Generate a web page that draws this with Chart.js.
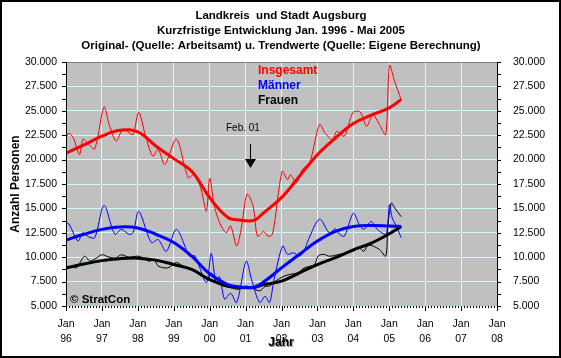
<!DOCTYPE html>
<html lang="de">
<head>
    <meta charset="UTF-8">
    <title>Landkreis und Stadt Augsburg</title>
    <style>
        body {
            margin: 0;
            background: white;
        }
        #box {
            width: 561px;
            height: 358px;
        }
    </style>
</head>
<body>

    <div id="box"><canvas id="alo" width="561" height="358"></canvas></div>

    <script src="https://cdn.jsdelivr.net/npm/chart.js"></script>

    <script>
        // Monate ab Jan. 1996 (0 = Jan 96)
        const insgesamtMonate = [0, 1, 2.5, 4.5, 5.7, 7.5, 9.6, 12.7, 14.5, 16.8, 19, 21, 22.4, 24.3, 26.5, 29, 30.8, 33, 36.9, 40.8, 42.7, 45, 46.9, 48, 49.6, 51.3, 53.5, 55, 57, 58.5, 60.5, 62.5, 64, 66, 67.5, 69, 72.2, 74, 75, 77, 79, 81.4, 84.7, 86.5, 89, 90.5, 93, 95.8, 98, 99, 100.5, 102.5, 104.7, 106.8, 108.1, 109.8, 112];
        const insgesamtWerte = [22200, 22700, 22200, 20500, 22100, 21600, 21100, 25400, 23500, 21900, 23150, 22750, 22550, 24850, 22500, 20350, 21050, 19500, 22100, 18150, 18450, 17100, 14700, 18100, 15200, 13550, 12500, 13200, 11150, 12850, 16450, 15250, 12150, 12650, 12150, 12350, 18800, 17950, 18450, 17600, 19000, 19650, 23600, 22750, 22050, 22900, 22400, 24800, 24950, 24450, 23400, 24600, 23600, 22550, 29650, 28000, 26100];

        const maennerMonate = [0, 1, 4, 5.6, 7.5, 9.6, 12.7, 16.3, 18.5, 21, 22.4, 24.3, 28.5, 30.8, 33.5, 36.9, 41.3, 43, 46.9, 48.5, 50, 51.3, 53, 55, 57, 60.2, 62, 64.7, 66.5, 68, 69.5, 72.4, 74, 76, 78, 79.5, 81, 84.7, 88, 90, 91.4, 93, 96, 98, 99.5, 102, 104, 106.8, 107.5, 108.1, 109, 110, 112];
        const maennerWerte = [13550, 13400, 11650, 12500, 12100, 12000, 15300, 12350, 12850, 12350, 12500, 14700, 11500, 11800, 10600, 12850, 10100, 10150, 7400, 10400, 7700, 8000, 5700, 6300, 5350, 9600, 7700, 5350, 6000, 5350, 7700, 11150, 10300, 10450, 10100, 10600, 11800, 13900, 12500, 12900, 12350, 12150, 14500, 13350, 12850, 13650, 12850, 12350, 13450, 15400, 14000, 13400, 12000];

        const frauenMonate = [0, 2, 3.5, 6.2, 8, 9.6, 12, 14, 16.5, 18.5, 21, 24.3, 27.6, 29.5, 30.8, 34, 36.9, 40, 42.4, 45, 47.5, 48.5, 50, 52.4, 55, 57.6, 60, 62, 64.7, 66.5, 68, 70, 72.8, 75, 77.5, 79.6, 83, 84.2, 86, 88, 91.4, 95.8, 98, 99.5, 101, 104.7, 106.8, 107.5, 108.7, 109.8, 112];
        const frauenWerte = [8900, 9050, 8900, 10100, 9600, 9800, 10250, 10050, 9900, 10250, 10000, 10100, 9600, 9700, 9100, 8900, 9450, 8900, 8750, 8250, 7700, 8400, 7600, 7050, 6900, 6700, 7050, 6850, 6550, 7000, 7050, 7550, 8050, 8250, 8400, 8900, 9250, 10100, 10300, 10100, 10300, 10600, 10950, 10600, 11250, 10800, 10100, 13000, 15550, 15050, 14150];

        // Trendwerte
        const trendMonate = [0, 6, 12, 18, 24, 30, 36, 42, 48, 54, 58, 63, 66, 72, 78, 84, 90, 96, 102, 108, 112];
        const insgesamtTrend = [20650, 21500, 22400, 23000, 22850, 21400, 20100, 18800, 16100, 14100, 13800, 13800, 14550, 16100, 18300, 20500, 22200, 23700, 24550, 25300, 26150];
        const maennerTrend = [11750, 12350, 12850, 13100, 13000, 12350, 11500, 10100, 8300, 7200, 6950, 6950, 7450, 8900, 10300, 11650, 12650, 13150, 13250, 13200, 13150];
        const frauenTrend = [8900, 9300, 9650, 9850, 9900, 9700, 9250, 8750, 7700, 7050, 6900, 6900, 7200, 7550, 8400, 9250, 9950, 10750, 11450, 12400, 13150];

        const titelZeilen = [
            'Landkreis  und Stadt Augsburg',
            'Kurzfristige Entwicklung Jan. 1996 - Mai 2005',
            'Original- (Quelle: Arbeitsamt) u. Trendwerte (Quelle: Eigene Berechnung)'
        ];

        function punkte(monate, werte) {
            return monate.map((m, i) => ({ x: m, y: werte[i] }));
        }

        function tausender(v) {
            const t = Math.floor(v / 1000);
            const r = String(v % 1000).padStart(3, '0');
            return t + '.' + r;
        }

        Chart.defaults.font.family = 'Arial, "Liberation Sans", sans-serif';
        Chart.defaults.font.size = 10.5;
        Chart.defaults.color = '#000';

        // Hintergrund, Achsenlinien, Beschriftungen
        const rahmen = {
            id: 'rahmen',
            beforeDraw(chart) {
                const c = chart.ctx, a = chart.chartArea;
                c.save();
                c.fillStyle = '#fff';
                c.fillRect(0, 0, chart.width, chart.height);
                c.fillStyle = '#c0c0c0';
                c.fillRect(a.left, a.top, a.right - a.left, a.bottom - a.top);
                c.restore();
            },
            afterDraw(chart) {
                const c = chart.ctx, a = chart.chartArea;
                const xs = chart.scales.x, yl = chart.scales.y;
                c.save();
                // Rahmen oben
                c.strokeStyle = '#808080';
                c.lineWidth = 1;
                c.beginPath();
                c.moveTo(a.left, a.top + 0.5);
                c.lineTo(a.right, a.top + 0.5);
                c.stroke();
                // Achsen links/rechts
                c.strokeStyle = '#000';
                c.beginPath();
                c.moveTo(a.left + 0.5, a.top);
                c.lineTo(a.left + 0.5, a.bottom + 1);
                c.moveTo(a.right + 0.5, a.top);
                c.lineTo(a.right + 0.5, a.bottom + 1);
                for (let v = 5000; v <= 30000; v += 1250) {
                    const py = Math.round(yl.getPixelForValue(v)) + 0.5;
                    c.moveTo(a.left - 4, py);
                    c.lineTo(a.left, py);
                    c.moveTo(a.right, py);
                    c.lineTo(a.right + 4, py);
                }
                c.stroke();
                // Monatsstriche unten
                c.fillStyle = '#000';
                for (let m = 0; m <= 144; m++) {
                    const px = Math.round(xs.getPixelForValue(m));
                    c.fillRect(px, a.bottom, 1, m % 12 === 0 ? 5 : 2);
                }
                // Titel
                c.textAlign = 'center';
                c.textBaseline = 'middle';
                c.font = 'bold 11.5px Arial, "Liberation Sans", sans-serif';
                titelZeilen.forEach((t, i) => c.fillText(t, 281, 16 + i * 15));
                // Achsentitel
                c.font = 'bold 12px Arial, "Liberation Sans", sans-serif';
                c.save();
                c.translate(16, (a.top + a.bottom) / 2);
                c.rotate(-Math.PI / 2);
                c.fillText('Anzahl Personen', 0, 0);
                c.restore();
                c.fillStyle = '#808080';
                c.fillText('Jahr', 282, 344);
                c.fillStyle = '#000';
                c.fillText('Jahr', 281, 343);
                // Legende
                c.textAlign = 'left';
                c.fillStyle = '#ff0000';
                c.fillText('Insgesamt', 258, 71);
                c.fillStyle = '#0000ff';
                c.fillText('Männer', 258, 86);
                c.fillStyle = '#000';
                c.fillText('Frauen', 258, 101);
                c.font = 'bold 11.5px Arial, "Liberation Sans", sans-serif';
                c.fillText('© StratCon', 70, 300);
                // Feb. 01 Pfeil
                c.font = '10px Arial, "Liberation Sans", sans-serif';
                c.fillText('Feb. 01', 226, 128);
                const ax = Math.round(xs.getPixelForValue(61.5)) + 0.5;
                c.beginPath();
                c.moveTo(ax, 144);
                c.lineTo(ax, 160);
                c.stroke();
                c.beginPath();
                c.moveTo(ax - 5.5, 159);
                c.lineTo(ax + 5.5, 159);
                c.lineTo(ax, 168);
                c.closePath();
                c.fill();
                // Bildrand
                c.lineWidth = 2;
                c.strokeRect(1, 1, chart.width - 2, chart.height - 2);
                c.restore();
            }
        };

        const ctx = document.getElementById('alo').getContext('2d');
        new Chart(ctx, {
            type: 'line',
            data: {
                datasets: [
                    { data: punkte(trendMonate, insgesamtTrend), borderColor: '#ff0000', borderWidth: 3, order: 0 },
                    { data: punkte(trendMonate, maennerTrend), borderColor: '#0000ff', borderWidth: 3, order: 0 },
                    { data: punkte(trendMonate, frauenTrend), borderColor: '#000000', borderWidth: 3, order: 0 },
                    { data: punkte(insgesamtMonate, insgesamtWerte), borderColor: '#ff0000', borderWidth: 1, tension: 0.3, order: 1 },
                    { data: punkte(maennerMonate, maennerWerte), borderColor: '#0000ff', borderWidth: 1, tension: 0.3, order: 1 },
                    { data: punkte(frauenMonate, frauenWerte), borderColor: '#000000', borderWidth: 1, tension: 0.3, order: 1 }
                ]
            },
            options: {
                responsive: false,
                animation: false,
                layout: { padding: { top: 62, left: 0, right: 0, bottom: 0 } },
                elements: {
                    point: { radius: 0 },
                    line: { tension: 0.4, fill: false }
                },
                plugins: {
                    legend: { display: false },
                    title: { display: false },
                    tooltip: { enabled: false }
                },
                scales: {
                    x: {
                        type: 'linear',
                        min: 0,
                        max: 144,
                        afterFit(s) { s.height = 52; },
                        border: { display: false },
                        grid: { color: '#ccffff', drawTicks: false },
                        ticks: {
                            stepSize: 12,
                            autoSkip: false,
                            maxRotation: 0,
                            padding: 11,
                            font: { lineHeight: 1.4 },
                            callback: v => ['Jan', String((96 + v / 12) % 100).padStart(2, '0')]
                        }
                    },
                    y: {
                        position: 'left',
                        min: 5000,
                        max: 30000,
                        afterFit(s) { s.width = 66; },
                        border: { display: false },
                        grid: { color: '#ccffff', drawTicks: false },
                        ticks: { stepSize: 2500, padding: 9, callback: v => tausender(v) }
                    },
                    y2: {
                        position: 'right',
                        min: 5000,
                        max: 30000,
                        afterFit(s) { s.width = 64; },
                        border: { display: false },
                        grid: { display: false },
                        ticks: { stepSize: 2500, padding: 8, callback: v => tausender(v) }
                    }
                }
            },
            plugins: [rahmen]
        });
    </script>

</body>
</html>
